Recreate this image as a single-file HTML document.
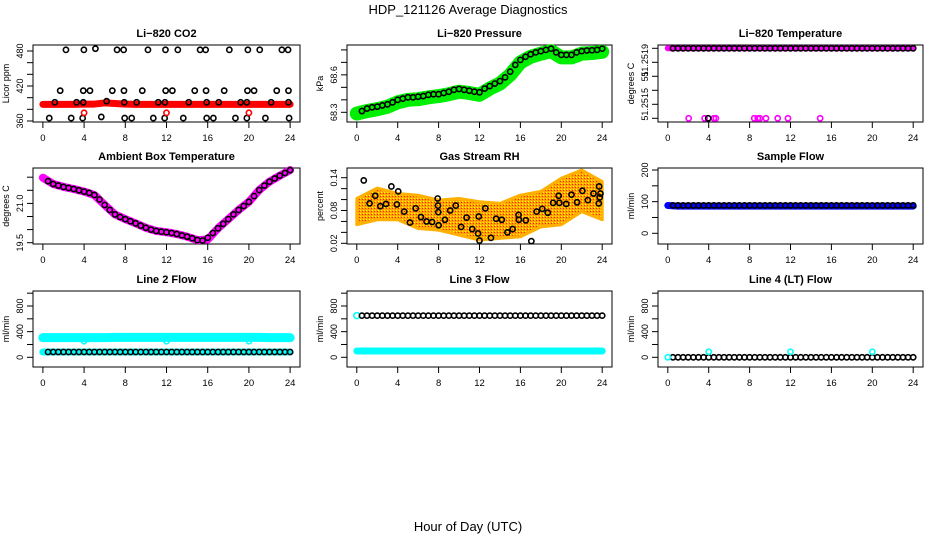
<!DOCTYPE html>
<html><head><meta charset="utf-8"><title>HDP_121126 Average Diagnostics</title>
<style>
html,body{margin:0;padding:0;background:#fff;}
svg{display:block;font-family:"Liberation Sans",Arial,sans-serif;}
</style></head>
<body>
<svg id="chart" width="936" height="540" viewBox="0 0 936 540" xmlns="http://www.w3.org/2000/svg">
<defs>
<pattern id="rhpat" width="3" height="3" patternUnits="userSpaceOnUse">
<rect width="3" height="3" fill="#ffa500"/><rect width="1" height="1" fill="#ffff00"/><rect x="2" y="1" width="1" height="1" fill="#ff2000"/>
</pattern>
</defs>
<text x="468" y="14" font-size="13" text-anchor="middle">HDP_121126  Average Diagnostics</text>
<text x="468" y="531" font-size="13" text-anchor="middle">Hour of Day (UTC)</text>
</svg>
<script>
// ---------- data ----------
const xTicks = [0,4,8,12,16,20,24];
const halfHours = [0.5,1,1.5,2,2.5,3,3.5,4,4.5,5,5.5,6,6.5,7,7.5,8,8.5,9,9.5,10,10.5,11,11.5,12,12.5,13,13.5,14,14.5,15,15.5,16,16.5,17,17.5,18,18.5,19,19.5,20,20.5,21,21.5,22,22.5,23,23.5,24];
const hours = [0,1,2,3,4,5,6,7,8,9,10,11,12,13,14,15,16,17,18,19,20,21,22,23,24];

// CO2
const co2TopHours = [2.24,3.98,5.1,7.2,7.84,10.2,11.9,13.1,15.26,15.8,18.1,19.9,21.05,23.2,23.8];
const co2TopVals = [482,482,484,482,482,482,482,482,482,482,482,482,482,482,482];
const co2HiHours = [1.68,3.92,4.57,6.74,7.87,9.65,11.92,12.57,14.74,15.84,17.6,19.86,20.5,22.7,23.84];
const co2HiVals = [412,412,412,412,412,412,412,412,412,412,412,412,412,412,412];
const co2MidHours = [1.16,3.27,3.92,6.19,7.9,9.1,11.2,11.85,14.16,15.9,17.07,19.2,19.8,22.16,23.84];
const co2MidVals = [392,392,392,394,392,392,392,392,392,392,392,392,392,392,392];
const co2LowHours = [0.62,2.75,3.86,5.67,7.94,8.62,10.72,11.82,13.63,15.9,16.55,18.69,19.8,21.6,23.9];
const co2LowVals = [365,365,365,367,365,365,365,365,365,365,365,365,365,365,365];
const co2RedHours = [4,12,20];
const co2RedVals = [374,374,374];
const co2Band = [388.6,388.6,388.6,388.6,389,389,391,390,389,388.6,388.6,388.6,388.6,388.6,388.6,388.6,388.6,388.6,388.6,388.6,388.6,388.6,388.6,388.6,388.6];

// Pressure
const presBlack = [68.31,68.33,68.34,68.345,68.355,68.364,68.38,68.40,68.41,68.42,68.42,68.425,68.43,68.44,68.445,68.445,68.455,68.465,68.48,68.487,68.48,68.473,68.465,68.46,68.49,68.51,68.53,68.55,68.58,68.626,68.68,68.72,68.745,68.765,68.78,68.79,68.80,68.81,68.78,68.76,68.76,68.76,68.78,68.79,68.795,68.797,68.80,68.81];
const presGreen = [68.29,68.31,68.325,68.345,68.38,68.40,68.405,68.42,68.43,68.445,68.465,68.455,68.44,68.49,68.53,68.60,68.70,68.745,68.77,68.79,68.74,68.74,68.77,68.775,68.785];

// Li-820 temperature
const tempTop = [51.2519,51.2519,51.2519,51.2519,51.2519,51.2519,51.2519,51.2519,51.2519,51.2519,51.2519,51.2519,51.2519,51.2519,51.2519,51.2519,51.2519,51.2519,51.2519,51.2519,51.2519,51.2519,51.2519,51.2519,51.2519];
const tempTopBlack = [51.2519,51.2519,51.2519,51.2519,51.2519,51.2519,51.2519,51.2519,51.2519,51.2519,51.2519,51.2519,51.2519,51.2519,51.2519,51.2519,51.2519,51.2519,51.2519,51.2519,51.2519,51.2519,51.2519,51.2519,51.2519,51.2519,51.2519,51.2519,51.2519,51.2519,51.2519,51.2519,51.2519,51.2519,51.2519,51.2519,51.2519,51.2519,51.2519,51.2519,51.2519,51.2519,51.2519,51.2519,51.2519,51.2519,51.2519,51.2519];
const tempLowHours = [2.04,3.6,4.5,4.7,8.45,8.8,9.0,9.6,10.75,11.75,14.9];
const tempLowVals = [51.2515,51.2515,51.2515,51.2515,51.2515,51.2515,51.2515,51.2515,51.2515,51.2515,51.2515];
const tempBlackLowHours = [3.95];
const tempBlackLowVals = [51.2515];

// Ambient box temperature
const ambBlack = [21.85,21.74,21.68,21.63,21.59,21.55,21.50,21.45,21.40,21.32,21.15,20.94,20.75,20.58,20.48,20.40,20.32,20.24,20.15,20.07,20.00,19.95,19.92,19.90,19.87,19.83,19.78,19.73,19.67,19.60,19.58,19.69,19.87,20.05,20.22,20.40,20.58,20.75,20.90,21.06,21.28,21.51,21.68,21.83,21.95,22.06,22.16,22.27];
const ambMagenta = [21.98,21.74,21.63,21.55,21.45,21.32,20.94,20.58,20.40,20.24,20.07,19.95,19.90,19.83,19.73,19.60,19.62,20.05,20.40,20.75,21.06,21.51,21.83,22.06,22.27];

// Gas stream RH
const rhHours = [0.68,1.25,1.8,2.3,2.86,3.38,3.92,4.05,4.63,5.2,5.76,6.27,6.82,7.36,7.91,7.94,7.97,8.0,8.62,9.13,9.68,10.2,10.74,11.29,11.86,11.93,12.0,12.57,13.12,13.63,14.18,14.73,15.24,15.82,15.85,16.53,17.07,17.59,18.14,18.68,19.2,19.74,19.81,20.48,21.0,21.54,22.06,22.6,23.15,23.7,23.67,23.76,23.83];
const rhVals = [0.135,0.093,0.107,0.088,0.092,0.124,0.091,0.115,0.078,0.058,0.084,0.068,0.060,0.059,0.102,0.089,0.077,0.053,0.063,0.080,0.089,0.050,0.067,0.046,0.038,0.069,0.025,0.084,0.030,0.065,0.063,0.040,0.046,0.072,0.063,0.062,0.024,0.078,0.083,0.076,0.094,0.107,0.094,0.092,0.109,0.095,0.116,0.099,0.111,0.124,0.093,0.104,0.111];
const rhCloudHours = [0,2,4,6,8,10,12,14,16,18,20,22,24];
const rhCloudHi = [0.102,0.121,0.111,0.108,0.099,0.102,0.096,0.093,0.108,0.115,0.139,0.154,0.133];
const rhCloudLo = [0.054,0.063,0.063,0.047,0.044,0.035,0.026,0.029,0.032,0.050,0.054,0.078,0.063];

// Sample flow
const sampleBlack = [88,88,88,88,88,88,88,88,88,88,88,88,88,88,88,88,88,88,88,88,88,88,88,88,88,88,88,88,88,88,88,88,88,88,88,88,88,88,88,88,88,88,88,88,88,88,88,88];
const sampleBlue = [88,86,86,86,86,86,86,86,86,86,86,86,86,86,86,86,86,86,86,86,86,86,86,86,86];

// Line flows
const line2Black = [83,83,83,83,83,83,83,83,83,83,83,83,83,83,83,83,83,83,83,83,83,83,83,83,83,83,83,83,83,83,83,83,83,83,83,83,83,83,83,83,83,83,83,83,83,83,83,83];
const line2CyanHi = [306,306,306,306,306,306,306,310,310,310,310,310,310,310,310,310,310,310,310,310,310,310,306,306,306];
const line2CyanLo = [83,83,83,83,83,83,83,83,83,83,83,83,83,83,83,83,83,83,83,83,83,83,83,83,83];
const line2DipHours = [4,12,20];
const line2DipVals = [250,250,250];
const line3Black = [650,650,650,650,650,650,650,650,650,650,650,650,650,650,650,650,650,650,650,650,650,650,650,650,650,650,650,650,650,650,650,650,650,650,650,650,650,650,650,650,650,650,650,650,650,650,650,650];
const line3CyanLo = [98,98,98,98,98,98,98,98,98,98,98,98,98,98,98,98,98,98,98,98,98,98,98,98,98];
const line3CyanStartHours = [0];
const line3CyanStartVals = [650];
const line4Black = [0,0,0,0,0,0,0,0,0,0,0,0,0,0,0,0,0,0,0,0,0,0,0,0,0,0,0,0,0,0,0,0,0,0,0,0,0,0,0,0,0,0,0,0,0,0,0,0];
const line4SpikeHours = [0,4,12,20];
const line4SpikeVals = [0,87,87,87];

// tick value arrays
const co2Ticks = [360,380,400,420,440,460,480];
const co2Labels = ["360","","","420","","","480"];
const presTicks = [68.3,68.4,68.5,68.6,68.7,68.8];
const presLabels = ["68.3","","","68.6","",""];
const tempTicks = [51.2515,51.25158,51.25166,51.25174,51.25182,51.2519];
const tempLabels = ["51.2515","","","51","","51.2519"];
const ambTicks = [19.5,20.0,20.5,21.0,21.5,22.0];
const ambLabels = ["19.5","","","21.0","",""];
const rhTicks = [0.02,0.04,0.06,0.08,0.10,0.12,0.14];
const rhLabels = ["0.02","","","0.08","","","0.14"];
const sampleTicks = [0,50,100,150,200];
const sampleLabels = ["0","","100","","200"];
const flowTicks = [0,200,400,600,800,1000];
const flowLabels = ["0","","400","","800",""];

// ---------- drawing ----------
const NS = "http://www.w3.org/2000/svg";
const svg = document.getElementById('chart');

function el(tag, parent){ const e=document.createElementNS(NS,tag); parent.appendChild(e); return e; }

function makePanel(cfg){
  const g = el('g', svg);
  
  
  const w = cfg.r - cfg.l;
  const x0 = cfg.l + w*0.037, x24 = cfg.r - w*0.037;
  const sx = h => x0 + (x24-x0)*h/24;
  const sy = v => cfg.y0 + (v-cfg.v0)*(cfg.y1-cfg.y0)/(cfg.v1-cfg.v0);
  const box = el('rect', g);
  box.setAttribute('x', cfg.l); box.setAttribute('y', cfg.t);
  box.setAttribute('width', w); box.setAttribute('height', cfg.b-cfg.t);
  box.setAttribute('fill','none'); box.setAttribute('stroke','#000'); box.setAttribute('stroke-width','1');
  
  
  const title = el('text', g);
  title.textContent = cfg.title;
  title.setAttribute('x', (cfg.l+cfg.r)/2); title.setAttribute('y', cfg.t-8);
  title.setAttribute('text-anchor','middle'); title.setAttribute('font-size','11'); title.setAttribute('font-weight','bold');
  
  
  const yl = el('text', g);
  yl.textContent = cfg.ylab;
  const ylx = cfg.l-24, yly=(cfg.t+cfg.b)/2;
  yl.setAttribute('x', ylx); yl.setAttribute('y', yly);
  yl.setAttribute('transform', 'rotate(-90 '+ylx+' '+yly+')');
  yl.setAttribute('text-anchor','middle'); yl.setAttribute('font-size','9');
  
  
  xTicks.forEach(h=>{
    const t = el('line', g);
    t.setAttribute('x1', sx(h)); t.setAttribute('x2', sx(h));
    t.setAttribute('y1', cfg.b); t.setAttribute('y2', cfg.b+6); t.setAttribute('stroke','#000');
    
    
    const lb = el('text', g);
    lb.textContent = String(h);
    lb.setAttribute('x', sx(h)); lb.setAttribute('y', cfg.b+19);
    lb.setAttribute('text-anchor','middle'); lb.setAttribute('font-size','9.5');
    
    
  });
  cfg.ticks.forEach((v,i)=>{
    const t = el('line', g);
    t.setAttribute('x1', cfg.l-6); t.setAttribute('x2', cfg.l);
    t.setAttribute('y1', sy(v)); t.setAttribute('y2', sy(v)); t.setAttribute('stroke','#000');
    
    
    const s = cfg.labels[i];
    if (s) {
      const lb = el('text', g);
      lb.textContent = s;
      let cy = sy(v);
      if (cfg.labelShift) cy += cfg.labelShift[i];
      const cx = cfg.l-10;
      lb.setAttribute('x', cx); lb.setAttribute('y', cy);
      lb.setAttribute('transform','rotate(-90 '+cx+' '+cy+')');
      lb.setAttribute('text-anchor','middle'); lb.setAttribute('font-size','9');
      
      
    }
  });
  return {g, sx, sy};
}

function points(p, xs, ys, color, name, r){
  xs.forEach((h,i)=>{
    const c = el('circle', p.g);
    c.setAttribute('cx', p.sx(h)); c.setAttribute('cy', p.sy(ys[i]));
    c.setAttribute('r', r||2.6); c.setAttribute('fill','none');
    c.setAttribute('stroke', color); c.setAttribute('stroke-width','1.6');
    
    
  });
}
function band(p, xs, ys, color, width, name){
  const pl = el('polyline', p.g);
  pl.setAttribute('points', xs.map((h,i)=>p.sx(h)+','+p.sy(ys[i])).join(' '));
  pl.setAttribute('fill','none'); pl.setAttribute('stroke', color);
  pl.setAttribute('stroke-width', width); pl.setAttribute('stroke-linejoin','round'); pl.setAttribute('stroke-linecap','round');
  
  
}

const C1={l:33,r:300}, C2={l:347,r:612}, C3={l:658,r:923};
const R1={t:45,b:122}, R2={t:168,b:244}, R3={t:291,b:367};

const p1 = makePanel({name:'co2-panel',title:'Li\u2212820 CO2',ylab:'Licor ppm',l:C1.l,r:C1.r,t:R1.t,b:R1.b,v0:360,y0:121,v1:480,y1:51,ticks:co2Ticks,labels:co2Labels});
band(p1, hours, co2Band, '#ff0000', 7, 'co2-red-series');
points(p1, co2TopHours, co2TopVals, '#000', 'co2-point');
points(p1, co2HiHours, co2HiVals, '#000', 'co2-point');
points(p1, co2MidHours, co2MidVals, '#000', 'co2-point');
points(p1, co2LowHours, co2LowVals, '#000', 'co2-point');
points(p1, co2RedHours, co2RedVals, '#ff0000', 'co2-red-point');

const p2 = makePanel({name:'pressure-panel',title:'Li\u2212820 Pressure',ylab:'kPa',l:C2.l,r:C2.r,t:R1.t,b:R1.b,v0:68.3,y0:112.3,v1:68.8,y1:49.9,ticks:presTicks,labels:presLabels});
band(p2, hours, presGreen, '#00ee00', 14, 'pressure-green-series');
points(p2, halfHours, presBlack, '#000', 'pressure-point');

const p3 = makePanel({name:'li820-temperature-panel',title:'Li\u2212820 Temperature',ylab:'degrees C',l:C3.l,r:C3.r,t:R1.t,b:R1.b,v0:51.2515,y0:118.3,v1:51.2519,y1:48.3,ticks:tempTicks,labels:tempLabels,labelShift:[-14,0,0,0,0,12]});
band(p3, hours, tempTop, '#ff00ff', 6, 'temperature-magenta-series');
points(p3, halfHours, tempTopBlack, '#000', 'temperature-point');
points(p3, tempLowHours, tempLowVals, '#ff00ff', 'temperature-magenta-point');
points(p3, tempBlackLowHours, tempBlackLowVals, '#000', 'temperature-point');

const p4 = makePanel({name:'ambient-temperature-panel',title:'Ambient Box Temperature',ylab:'degrees C',l:C1.l,r:C1.r,t:R2.t,b:R2.b,v0:19.5,y0:242.7,v1:22.0,y1:177.2,ticks:ambTicks,labels:ambLabels});
band(p4, hours, ambMagenta, '#ff00ff', 8, 'ambient-magenta-series');
points(p4, halfHours, ambBlack, '#000', 'ambient-point');

const p5 = makePanel({name:'rh-panel',title:'Gas Stream RH',ylab:'percent',l:C2.l,r:C2.r,t:R2.t,b:R2.b,v0:0.02,y0:243.3,v1:0.14,y1:177.7,ticks:rhTicks,labels:rhLabels});
const cloud = el('polygon', p5.g);
cloud.setAttribute('points', rhCloudHours.map((h,i)=>p5.sx(h)+','+p5.sy(rhCloudHi[i])).concat(rhCloudHours.slice().reverse().map((h,i)=>p5.sx(h)+','+p5.sy(rhCloudLo[rhCloudLo.length-1-i]))).join(' '));
cloud.setAttribute('fill','url(#rhpat)'); cloud.setAttribute('stroke','#ffb000'); cloud.setAttribute('stroke-width','3'); cloud.setAttribute('stroke-linejoin','round');


points(p5, rhHours, rhVals, '#000', 'rh-point');

const p6 = makePanel({name:'sample-flow-panel',title:'Sample Flow',ylab:'ml/min',l:C3.l,r:C3.r,t:R2.t,b:R2.b,v0:0,y0:233.3,v1:200,y1:170,ticks:sampleTicks,labels:sampleLabels});
band(p6, hours, sampleBlue, '#0000ff', 7, 'sample-flow-blue-series');
points(p6, halfHours, sampleBlack, '#000', 'sample-flow-point');

const fcfg = {v0:0,y0:357.3,v1:800,y1:306,ticks:flowTicks,labels:flowLabels,ylab:'ml/min',t:R3.t,b:R3.b};
const p7 = makePanel(Object.assign({name:'line2-flow-panel',title:'Line 2 Flow',l:C1.l,r:C1.r}, fcfg));
band(p7, hours, line2CyanHi, '#00ffff', 9, 'line2-cyan-series');
band(p7, hours, line2CyanLo, '#00ffff', 7, 'line2-cyan-low-series');
points(p7, line2DipHours, line2DipVals, '#00ffff', 'line2-cyan-point');
points(p7, halfHours, line2Black, '#000', 'line2-point');
const p8 = makePanel(Object.assign({name:'line3-flow-panel',title:'Line 3 Flow',l:C2.l,r:C2.r}, fcfg));
band(p8, hours, line3CyanLo, '#00ffff', 7, 'line3-cyan-series');
points(p8, line3CyanStartHours, line3CyanStartVals, '#00ffff', 'line3-cyan-point', 3);
points(p8, halfHours, line3Black, '#000', 'line3-point');
const p9 = makePanel(Object.assign({name:'line4-flow-panel',title:'Line 4 (LT) Flow',l:C3.l,r:C3.r}, fcfg));
points(p9, halfHours, line4Black, '#000', 'line4-point');
points(p9, line4SpikeHours, line4SpikeVals, '#00ffff', 'line4-cyan-point');
</script>
</body></html>
